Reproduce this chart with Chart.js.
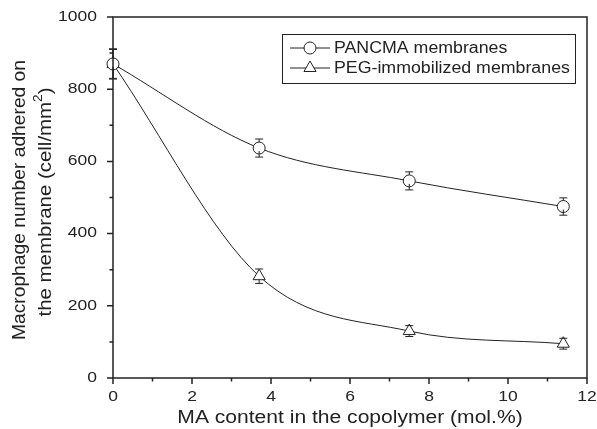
<!DOCTYPE html>
<html>
<head>
<meta charset="utf-8">
<script src="https://cdn.jsdelivr.net/npm/chart.js@4.4.1/dist/chart.umd.min.js"></script>
<style>
  html, body { margin: 0; padding: 0; background: #fff; }
</style>
</head>
<body>
<canvas id="myChart" width="597" height="429"></canvas>
<script>
// MA content (mol.%) for each membrane sample
const maContent = [0, 3.7, 7.5, 11.4];

// Adhered macrophages (cell/mm2) with standard deviations
const pancmaValues = [870, 637, 546, 475];
const pancmaErrors = [42, 25, 25, 24];
const pegValues = [870, 282, 130, 95];
const pegErrors = [40, 20, 15, 15];

const seriesNames = ['PANCMA membranes', 'PEG-immobilized membranes'];

const xTickLabels = ['0', '2', '4', '6', '8', '10', '12'];
const yTickLabels = ['0', '200', '400', '600', '800', '1000'];

const ink = '#222';
const fontFamily = '"Liberation Sans", Arial, Helvetica, sans-serif';

// write text squeezed or widened along its own direction
function wideText(ctx, text, x, y, sx, align, angle) {
    ctx.save();
    ctx.translate(x, y);
    if (angle) ctx.rotate(angle);
    ctx.scale(sx, 1);
    ctx.textAlign = align;
    ctx.fillText(text, 0, 0);
    ctx.restore();
}

// error bars start at the marker edge; a short cap may sit inside the marker
const errorBars = {
    id: 'errorBars',
    afterDatasetsDraw(chart) {
        const ctx = chart.ctx;
        const xs = chart.scales.x;
        const ys = chart.scales.y;
        ctx.save();
        ctx.strokeStyle = ink;
        ctx.lineWidth = 1;
        chart.data.datasets.forEach(ds => {
            const r = ds.pointRadius;
            ds.data.forEach((p, i) => {
                const e = ds.errors[i];
                const px = xs.getPixelForValue(p.x);
                const py = ys.getPixelForValue(p.y);
                const top = ys.getPixelForValue(p.y + e);
                const bot = ys.getPixelForValue(p.y - e);
                ctx.beginPath();
                if (py - top > r) {
                    ctx.moveTo(px, py - r);
                    ctx.lineTo(px, top);
                }
                if (bot - py > r / 2) {
                    ctx.moveTo(px, py + r / 2);
                    ctx.lineTo(px, bot);
                }
                ctx.moveTo(px - 4, top);
                ctx.lineTo(px + 4, top);
                ctx.moveTo(px - 4, bot);
                ctx.lineTo(px + 4, bot);
                ctx.stroke();
            });
        });
        ctx.restore();
    }
};

// box frame, outward ticks, labels, titles and legend
const frame = {
    id: 'frame',
    afterDraw(chart) {
        const ctx = chart.ctx;
        const a = chart.chartArea;
        const xs = chart.scales.x;
        const ys = chart.scales.y;
        ctx.save();
        ctx.strokeStyle = ink;
        ctx.fillStyle = ink;

        ctx.lineWidth = 1.5;
        ctx.strokeRect(a.left, a.top, a.right - a.left, a.bottom - a.top);

        ctx.beginPath();
        for (let v = 0; v <= 12; v += 1) {
            const px = xs.getPixelForValue(v);
            ctx.moveTo(px, a.bottom);
            ctx.lineTo(px, a.bottom + (v % 2 === 0 ? 6 : 3.5));
        }
        for (let v = 0; v <= 1000; v += 100) {
            const py = ys.getPixelForValue(v);
            ctx.moveTo(a.left, py);
            ctx.lineTo(a.left - (v % 200 === 0 ? 6 : 3.5), py);
        }
        ctx.stroke();

        ctx.font = '14px ' + fontFamily;
        ctx.textBaseline = 'alphabetic';
        xTickLabels.forEach(t => {
            wideText(ctx, t, xs.getPixelForValue(Number(t)), 401, 1.25, 'center');
        });
        ctx.textBaseline = 'middle';
        yTickLabels.forEach(t => {
            wideText(ctx, t, 97, ys.getPixelForValue(Number(t)), 1.25, 'right');
        });

        // axis titles
        ctx.font = '18px ' + fontFamily;
        ctx.textBaseline = 'alphabetic';
        wideText(ctx, 'MA content in the copolymer (mol.%)', (a.left + a.right) / 2, 423, 1.17, 'center');

        const line1 = 'Macrophage number adhered on';
        const sx1 = 280 / ctx.measureText(line1).width;
        ctx.textBaseline = 'middle';
        wideText(ctx, line1, 20, 200, sx1, 'center', -Math.PI / 2);

        // second line with a superscript 2
        const main = 'the membrane (cell/mm';
        ctx.font = '18px ' + fontFamily;
        const w1 = ctx.measureText(main).width;
        const w3 = ctx.measureText(')').width;
        ctx.font = '12px ' + fontFamily;
        const w2 = ctx.measureText('2').width;
        const sx2 = 229 / (w1 + w2 + w3);
        ctx.save();
        ctx.translate(46, 202);
        ctx.rotate(-Math.PI / 2);
        ctx.scale(sx2, 1);
        ctx.translate(-(w1 + w2 + w3) / 2, 0);
        ctx.textAlign = 'left';
        ctx.font = '18px ' + fontFamily;
        ctx.fillText(main, 0, 0);
        ctx.font = '12px ' + fontFamily;
        ctx.fillText('2', w1, -7);
        ctx.font = '18px ' + fontFamily;
        ctx.fillText(')', w1 + w2, 0);
        ctx.restore();

        // legend
        ctx.lineWidth = 1;
        ctx.strokeRect(282.5, 34.5, 293, 49);
        const rows = [48, 68];
        chart.data.datasets.forEach((ds, i) => {
            const y = rows[i];
            ctx.beginPath();
            ctx.moveTo(290, y);
            ctx.lineTo(330, y);
            ctx.stroke();
            ctx.fillStyle = '#fff';
            Chart.helpers.drawPoint(ctx, {
                pointStyle: ds.pointStyle,
                radius: ds.pointRadius,
                borderWidth: 1
            }, 310, y);
            ctx.fillStyle = ink;
            ctx.font = '16px ' + fontFamily;
            ctx.textBaseline = 'middle';
            wideText(ctx, seriesNames[i], 334, y + 1, 1.11, 'left');
        });

        ctx.restore();
    }
};

const toPoints = vals => vals.map((v, i) => ({ x: maContent[i], y: v }));

const ctx = document.getElementById('myChart').getContext('2d');
const myChart = new Chart(ctx, {
    type: 'line',
    data: {
        datasets: [{
            label: seriesNames[0],
            data: toPoints(pancmaValues),
            errors: pancmaErrors,
            borderColor: ink,
            borderWidth: 1,
            pointStyle: 'circle',
            pointRadius: 6,
            pointBorderWidth: 1,
            pointBorderColor: ink,
            pointBackgroundColor: '#fff',
            cubicInterpolationMode: 'monotone',
            clip: false
        }, {
            label: seriesNames[1],
            data: toPoints(pegValues),
            errors: pegErrors,
            borderColor: ink,
            borderWidth: 1,
            pointStyle: 'triangle',
            pointRadius: 7,
            pointBorderWidth: 1,
            pointBorderColor: ink,
            pointBackgroundColor: '#fff',
            cubicInterpolationMode: 'monotone',
            clip: false
        }]
    },
    options: {
        responsive: false,
        animation: false,
        events: [],
        layout: { padding: { top: 17, right: 10, left: 0, bottom: 0 } },
        plugins: {
            legend: { display: false },
            tooltip: { enabled: false }
        },
        scales: {
            x: {
                type: 'linear',
                min: 0,
                max: 12,
                grid: { display: false },
                border: { display: false },
                ticks: { display: false, stepSize: 2 },
                afterFit: s => { s.height = 51; }
            },
            y: {
                min: 0,
                max: 1000,
                grid: { display: false },
                border: { display: false },
                ticks: { display: false, stepSize: 200 },
                afterFit: s => { s.width = 113; }
            }
        }
    },
    plugins: [errorBars, frame]
});
</script>
</body>
</html>
